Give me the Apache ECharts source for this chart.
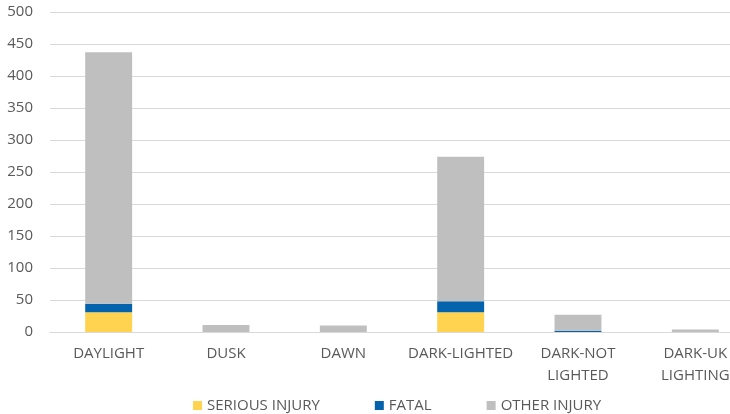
<!DOCTYPE html>
<html>
<head>
<meta charset="utf-8">
<script src="https://cdn.jsdelivr.net/npm/echarts@6/dist/echarts.min.js"></script>
<style>
  html, body { margin: 0; padding: 0; background: #fff; }
  #chart { width: 730px; height: 414px; }
</style>
</head>
<body>
<div id="chart"></div>
<script>
var categories = ['DAYLIGHT', 'DUSK', 'DAWN', 'DARK-LIGHTED', 'DARK-NOT\nLIGHTED', 'DARK-UK\nLIGHTING'];
var seriousInjury = [31, 0, 0, 31, 0, 0];
var fatal = [13, 0, 0, 17, 2, 0];
var otherInjury = [393, 11, 10, 226, 25, 4];
var yTicks = { min: 0, max: 500, interval: 50 };

var font = '"Open Sans", "Liberation Sans", sans-serif';
var barWidthPct = '40%';

var option = {
    animation: false,
    textStyle: { fontFamily: font },
    // plot area runs past the right edge, as in the cropped original
    grid: { left: 50, width: 704, top: 12, bottom: 82, containLabel: false, outerBoundsMode: 'none' },
    legend: {
        top: 393,
        left: 188,
        itemWidth: 9,
        itemHeight: 9,
        itemGap: 55,
        icon: 'rect',
        textStyle: { color: '#595959', fontSize: 15, fontFamily: font },
        data: ['SERIOUS INJURY', 'FATAL', 'OTHER INJURY']
    },
    xAxis: {
        type: 'category',
        data: categories,
        axisLine: { lineStyle: { color: '#d9d9d9', width: 1 } },
        axisTick: { show: false },
        axisLabel: { color: '#595959', fontSize: 15, margin: 11, lineHeight: 22, interval: 0 }
    },
    yAxis: {
        type: 'value',
        min: yTicks.min,
        max: yTicks.max,
        interval: yTicks.interval,
        axisLine: { show: false },
        axisTick: { show: false },
        splitLine: { lineStyle: { color: '#d9d9d9', width: 1 } },
        axisLabel: { color: '#595959', fontSize: 15, margin: 17 }
    },
    series: [
        { name: 'SERIOUS INJURY', type: 'bar', stack: 'total', barWidth: barWidthPct,
          itemStyle: { color: '#ffd24f' }, data: seriousInjury },
        { name: 'FATAL', type: 'bar', stack: 'total', barWidth: barWidthPct,
          itemStyle: { color: '#0563ad' }, data: fatal },
        { name: 'OTHER INJURY', type: 'bar', stack: 'total', barWidth: barWidthPct,
          itemStyle: { color: '#bfbfbf' }, data: otherInjury }
    ]
};

var chart = echarts.init(document.getElementById('chart'));
chart.setOption(option);
window.onresize = chart.resize;
</script>
</body>
</html>
